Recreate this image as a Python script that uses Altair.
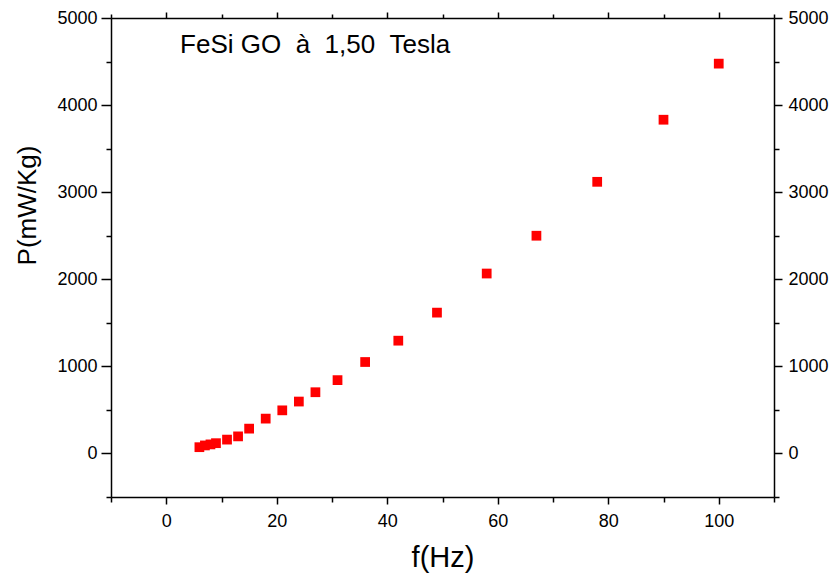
import altair as alt
import pandas as pd

# Data
freq = [6, 7, 8, 9, 11, 13, 15, 18, 21, 24, 27, 31, 36, 42, 49, 58, 67, 78, 90, 100]
power = [72, 92, 104, 118, 159, 196, 285, 400, 495, 596, 703, 842, 1050, 1295,
         1617, 2066, 2500, 3119, 3832, 4476]
x_ticks = [-10, 0, 10, 20, 30, 40, 50, 60, 70, 80, 90, 100, 110]
y_ticks = [-500, 0, 500, 1000, 1500, 2000, 2500, 3000, 3500, 4000, 4500, 5000]
note_text = ["FeSi\u00a0GO\u00a0\u00a0à\u00a0\u00a01,50\u00a0\u00a0Tesla"]
note_x = [2.5]
note_y = [4690]

df = pd.DataFrame({"f": freq, "P": power})
note_df = pd.DataFrame({"x": note_x, "y": note_y, "t": note_text})

FONT = "Liberation Sans"
xscale = alt.Scale(domain=[-10, 110], nice=False, zero=False)
yscale = alt.Scale(domain=[-500, 5000], nice=False, zero=False)

common = dict(
    grid=False, domainColor="black", domainWidth=1.5, tickColor="black",
    tickWidth=1.5, labelColor="black", labelFont=FONT, labelFontSize=18,
    titleFont=FONT, titleColor="black", titleFontWeight="normal", format="d",
)

x_bottom = alt.Axis(
    orient="bottom", values=x_ticks,
    labelExpr="datum.value % 20 === 0 ? datum.label : ''",
    tickSize={"condition": {"test": "datum.value % 20 === 0", "value": 7}, "value": 5},
    labelPadding=8, title="f(Hz)", titleFontSize=29,
    titleY=60, titleBaseline="middle", labelFlush=False, labelOverlap=False,
    **common,
)
x_top = alt.Axis(
    orient="top", values=x_ticks, labels=False,
    tickSize={"condition": {"test": "datum.value % 20 === 0", "value": 6}, "value": 4},
    title="", **common,
)
y_left = alt.Axis(
    orient="left", values=y_ticks,
    labelExpr="datum.value % 1000 === 0 ? datum.label : ''",
    tickSize={"condition": {"test": "datum.value % 1000 === 0", "value": 10}, "value": 5},
    labelPadding=4, title="P(mW/Kg)", titleFontSize=26,
    titleX=-84, titleY=187, titleAngle=270, titleAlign="center",
    titleBaseline="middle", labelFlush=False, labelOverlap=False,
    **common,
)
y_right = alt.Axis(
    orient="right", values=y_ticks,
    labelExpr="datum.value % 1000 === 0 ? datum.label : ''",
    tickSize={"condition": {"test": "datum.value % 1000 === 0", "value": 8}, "value": 5},
    labelPadding=6, title="", labelFlush=False, labelOverlap=False,
    **common,
)

points = alt.Chart(df).mark_square(size=95, color="#ff0000", opacity=1).encode(
    x=alt.X("f:Q", scale=xscale, axis=x_bottom),
    y=alt.Y("P:Q", scale=yscale, axis=y_left),
)
ghost = alt.Chart(df).mark_square(size=95, opacity=0).encode(
    x=alt.X("f:Q", scale=xscale, axis=x_top),
    y=alt.Y("P:Q", scale=yscale, axis=y_right),
)
note = alt.Chart(note_df).mark_text(
    align="left", baseline="middle", font=FONT, fontSize=26, color="black"
).encode(
    x=alt.X("x:Q", scale=xscale, axis=None),
    y=alt.Y("y:Q", scale=yscale, axis=None),
    text="t:N",
)

chart = (
    alt.layer(points, ghost, note)
    .resolve_axis(x="independent", y="independent")
    .properties(
        width=663, height=479,
        autosize=alt.AutoSizeParams(type="none"),
        padding={"left": 111, "top": 18, "right": 65, "bottom": 78},
        background="white",
    )
    .configure_view(stroke="transparent")
)

chart.save("out.html", embed_options={"renderer": "svg", "actions": False})
